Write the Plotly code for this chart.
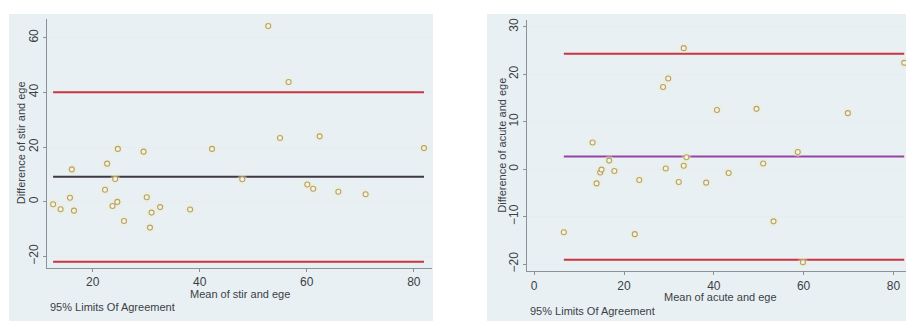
import plotly.graph_objects as go

# ---------------- data ----------------
# Left panel: stir vs ege
stir_mean = [12.6, 14.0, 15.75, 16.1, 16.5, 22.3, 22.7, 23.7, 24.2, 24.6, 24.7, 25.85,
             29.5, 30.1, 30.7, 31.0, 32.6, 38.2, 42.3, 47.95, 52.8, 55.0, 56.6, 60.1,
             61.2, 62.4, 65.9, 71.0, 81.9]
stir_diff = [-0.95, -2.8, 1.45, 11.8, -3.3, 4.35, 13.9, -1.6, 8.3, -0.1, 19.3, -7.1,
             18.3, 1.6, -9.5, -4.0, -2.0, -2.9, 19.3, 8.2, 64.3, 23.3, 43.8, 6.3,
             4.7, 23.9, 3.6, 2.7, 19.6]
stir_limits = {"mean": 9.1, "upper": 40.0, "lower": -22.0}

# Right panel: acute vs ege
acute_mean = [6.6, 13.0, 13.9, 14.7, 15.0, 16.7, 17.85, 22.4, 23.4, 28.7, 29.3, 29.85,
              32.2, 33.3, 33.3, 33.9, 38.3, 40.7, 43.3, 49.5, 51.0, 53.3, 58.7, 59.85,
              69.85, 82.4]
acute_diff = [-13.3, 5.6, -3.0, -0.7, -0.1, 1.8, -0.4, -13.7, -2.3, 17.3, 0.15, 19.1,
              -2.7, 25.5, 0.7, 2.5, -2.85, 12.45, -0.8, 12.7, 1.2, -11.0, 3.6, -19.6,
              11.8, 22.4]
acute_limits = {"mean": 2.65, "upper": 24.3, "lower": -19.1}

left_xticks = [20, 40, 60, 80]
left_yticks = [-20, 0, 20, 40, 60]
right_xticks = [0, 20, 40, 60, 80]
right_yticks = [-20, -10, 0, 10, 20, 30]

left_xtitle = "Mean of stir and ege"
left_ytitle = "Difference of stir and ege"
right_xtitle = "Mean of acute and ege"
right_ytitle = "Difference of acute and ege"
note_text = "95% Limits Of Agreement"

# ---------------- styling ----------------
W, H = 906, 322
FONT = "Liberation Sans, Arial, sans-serif"
TXT = "#3a3f44"
BG = "#e9f0f4"
GRID = "#e6ecef"
AXIS = "#8a9299"
RED = "#c9343f"
PT_LINE = "#b3a274"
PT_FILL = "#f7f2dc"


def px(x):
    return x / W


def py(y):
    return 1 - y / H


fig = go.Figure()


def add_panel(xs, ys, limits, mean_color, xa, ya):
    x0, x1 = min(xs), max(xs)
    for key, col in (("upper", RED), ("lower", RED), ("mean", mean_color)):
        v = limits[key]
        fig.add_trace(go.Scatter(x=[x0, x1], y=[v, v], mode="lines",
                                 line=dict(color=col, width=2.0),
                                 xaxis=xa, yaxis=ya, hoverinfo="skip",
                                 showlegend=False))
    # halo
    fig.add_trace(go.Scatter(x=xs, y=ys, mode="markers",
                             marker=dict(size=10, color="#f7ecb0", opacity=0.35,
                                         line=dict(width=0)),
                             xaxis=xa, yaxis=ya, hoverinfo="skip",
                             showlegend=False))
    fig.add_trace(go.Scatter(x=xs, y=ys, mode="markers",
                             marker=dict(size=5, color=PT_FILL, symbol="circle",
                                         line=dict(color=PT_LINE, width=1.1)),
                             xaxis=xa, yaxis=ya, showlegend=False))


add_panel(stir_mean, stir_diff, stir_limits, "#3e3844", "x", "y")
add_panel(acute_mean, acute_diff, acute_limits, "#9444a4", "x2", "y2")

axis_common = dict(showline=True, linecolor=AXIS, linewidth=1, ticks="outside",
                   ticklen=3, tickcolor=AXIS, zeroline=False,
                   tickfont=dict(family=FONT, size=12, color=TXT))

fig.update_layout(
    width=W, height=H,
    margin=dict(l=0, r=0, t=0, b=0),
    paper_bgcolor="white",
    plot_bgcolor="white",
    font=dict(family=FONT, color=TXT),
    showlegend=False,
    xaxis=dict(domain=[px(47), px(432)], range=[11.46, 83.4], anchor="y",
               tickvals=left_xticks, showgrid=False, **axis_common),
    yaxis=dict(domain=[py(268), py(17)], range=[-24.1, 66.9], anchor="x",
               tickvals=left_yticks, tickangle=-90, showgrid=True,
               gridcolor=GRID, gridwidth=1, **axis_common),
    xaxis2=dict(domain=[px(527), 1.0], range=[-1.6, 82.8], anchor="y2",
                tickvals=right_xticks, showgrid=False, **axis_common),
    yaxis2=dict(domain=[py(271.7), py(18.3)], range=[-21.5, 31.4], anchor="x2",
                tickvals=right_yticks, tickangle=-90, showgrid=True,
                gridcolor=GRID, gridwidth=1, **axis_common),
    shapes=[
        dict(type="rect", xref="paper", yref="paper", layer="below",
             x0=px(9), x1=px(433), y0=0, y1=py(12), fillcolor=BG, line=dict(width=0)),
        dict(type="rect", xref="paper", yref="paper", layer="below",
             x0=px(487), x1=1.0, y0=0, y1=py(12), fillcolor=BG, line=dict(width=0)),
    ],
    annotations=[
        dict(text=left_xtitle, xref="paper", yref="paper", x=px(239.5), y=py(294.5),
             showarrow=False, font=dict(size=11, family=FONT, color=TXT),
             xanchor="center", yanchor="middle"),
        dict(text=left_ytitle, xref="paper", yref="paper", x=px(21), y=py(142.5),
             showarrow=False, textangle=-90, font=dict(size=11, family=FONT, color=TXT),
             xanchor="center", yanchor="middle"),
        dict(text=note_text, xref="paper", yref="paper", x=px(48), y=py(308),
             showarrow=False, font=dict(size=11, family=FONT, color=TXT),
             xanchor="left", yanchor="middle"),
        dict(text=right_xtitle, xref="paper", yref="paper", x=px(720), y=py(297.5),
             showarrow=False, font=dict(size=11, family=FONT, color=TXT),
             xanchor="center", yanchor="middle"),
        dict(text=right_ytitle, xref="paper", yref="paper", x=px(502), y=py(145),
             showarrow=False, textangle=-90, font=dict(size=11, family=FONT, color=TXT),
             xanchor="center", yanchor="middle"),
        dict(text=note_text, xref="paper", yref="paper", x=px(528), y=py(311.5),
             showarrow=False, font=dict(size=11, family=FONT, color=TXT),
             xanchor="left", yanchor="middle"),
    ],
)

fig.write_html("out.html", config={"displayModeBar": False},
               post_script="document.body.style.margin='0';")
